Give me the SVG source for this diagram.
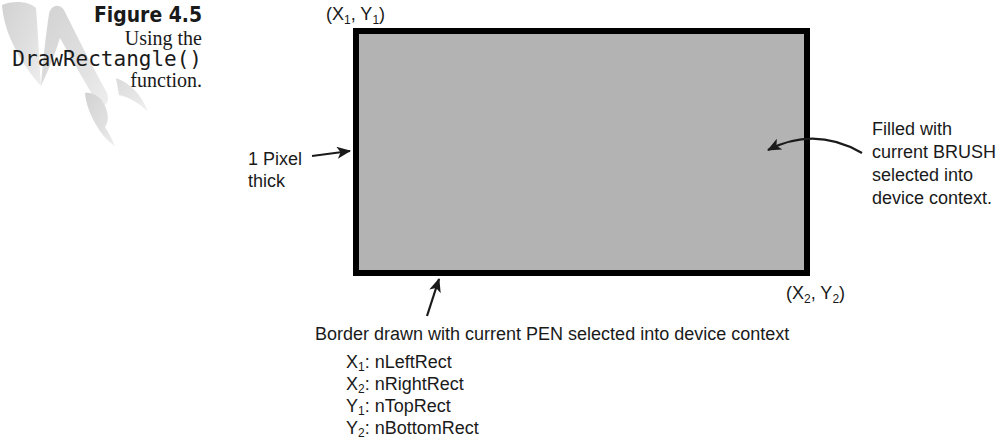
<svg xmlns="http://www.w3.org/2000/svg" width="1005" height="440" viewBox="0 0 1005 440">
  <style>
    .lbl { font-family: "Liberation Sans", Arial, sans-serif; font-size: 18px; fill: #1a1a1a; }
    .sub { font-size: 12px; }
    .cap-title { font-family: "DejaVu Sans Condensed", "Liberation Sans Narrow", sans-serif; font-weight: bold; font-size: 21px; fill: #1a1a1a; }
    .cap-serif { font-family: "Liberation Serif", "Times New Roman", serif; font-size: 20px; fill: #1a1a1a; }
    .cap-mono { font-family: "DejaVu Sans Mono", "Liberation Mono", monospace; font-size: 21px; fill: #1a1a1a; }
    .conn { fill: none; stroke: #1a1a1a; stroke-width: 2.2; }
  </style>
  <defs>
    <marker id="head" viewBox="0 0 14 12" refX="13" refY="6" markerWidth="14" markerHeight="12" markerUnits="userSpaceOnUse" orient="auto">
      <path d="M0,0 L14,6 L0,12 L3.5,6 Z" fill="#1a1a1a"/>
    </marker>
    <linearGradient id="quill" x1="0" y1="0" x2="1" y2="1">
      <stop offset="0" stop-color="#d2d2d2"/>
      <stop offset="0.6" stop-color="#e0e0e0"/>
      <stop offset="1" stop-color="#eeeeee"/>
    </linearGradient>
  </defs>

  <rect width="1005" height="440" fill="#ffffff"/>

  <!-- pale ornament behind the caption -->
  <g id="ornament" fill="url(#quill)">
    <path d="M2,5 C12,0 30,1 36,8 C38,32 39,58 41,86 C30,74 19,58 12,42 C6,29 3,17 2,5 Z"/>
    <path d="M41,86 C43,60 46,34 49,14 C51,5 59,3 64,10 C76,34 90,62 107,93 C110,101 106,107 99,106 C86,84 72,60 60,38 C55,55 48,71 41,86 Z"/>
    <path d="M85,93 C92,92 100,96 104,104 C109,113 109,122 105,127 C109,133 112,139 115,146 C106,140 100,132 95,123 C90,114 86,104 85,93 Z"/>
    <path d="M116,78 C130,83 142,95 148,112 C139,103 129,97 119,95 Z" opacity="0.8"/>
  </g>

  <!-- caption -->
  <g id="caption">
    <text class="cap-title" x="202" y="22" text-anchor="end" textLength="108" lengthAdjust="spacingAndGlyphs">Figure 4.5</text>
    <text class="cap-serif" x="202" y="45" text-anchor="end">Using the</text>
    <text class="cap-mono" x="202" y="66" text-anchor="end">DrawRectangle()</text>
    <text class="cap-serif" x="202" y="87" text-anchor="end">function.</text>
  </g>

  <!-- the drawn rectangle -->
  <g id="rectangle">
    <rect x="356" y="31" width="451" height="242" fill="#b3b3b3" stroke="#000000" stroke-width="6"/>
  </g>

  <!-- corner labels -->
  <g id="corner-top-left">
    <text class="lbl" x="326" y="20">(X<tspan class="sub" dy="4">1</tspan><tspan dy="-4">, Y</tspan><tspan class="sub" dy="4">1</tspan><tspan dy="-4">)</tspan></text>
  </g>
  <g id="corner-bottom-right">
    <text class="lbl" x="786" y="299">(X<tspan class="sub" dy="4">2</tspan><tspan dy="-4">, Y</tspan><tspan class="sub" dy="4">2</tspan><tspan dy="-4">)</tspan></text>
  </g>

  <!-- annotations -->
  <g id="note-pixel">
    <text class="lbl" x="248" y="165">1 Pixel</text>
    <text class="lbl" x="248" y="187">thick</text>
  </g>
  <g id="note-brush">
    <text class="lbl" x="872" y="135">Filled with</text>
    <text class="lbl" x="872" y="158">current BRUSH</text>
    <text class="lbl" x="872" y="181">selected into</text>
    <text class="lbl" x="872" y="204">device context.</text>
  </g>
  <g id="note-pen">
    <text class="lbl" x="315" y="340">Border drawn with current PEN selected into device context</text>
  </g>
  <g id="legend">
    <text class="lbl" x="346" y="368">X<tspan class="sub" dy="3">1</tspan><tspan dy="-3">: nLeftRect</tspan></text>
    <text class="lbl" x="346" y="390">X<tspan class="sub" dy="3">2</tspan><tspan dy="-3">: nRightRect</tspan></text>
    <text class="lbl" x="346" y="412">Y<tspan class="sub" dy="3">1</tspan><tspan dy="-3">: nTopRect</tspan></text>
    <text class="lbl" x="346" y="434">Y<tspan class="sub" dy="3">2</tspan><tspan dy="-3">: nBottomRect</tspan></text>
  </g>

  <!-- connectors -->
  <g id="connectors">
    <path class="conn" d="M312,156 L350,151" marker-end="url(#head)"/>
    <path class="conn" d="M862,153 Q815,126 768,150" marker-end="url(#head)"/>
    <path class="conn" d="M427,316 L439,279" marker-end="url(#head)"/>
  </g>
</svg>
